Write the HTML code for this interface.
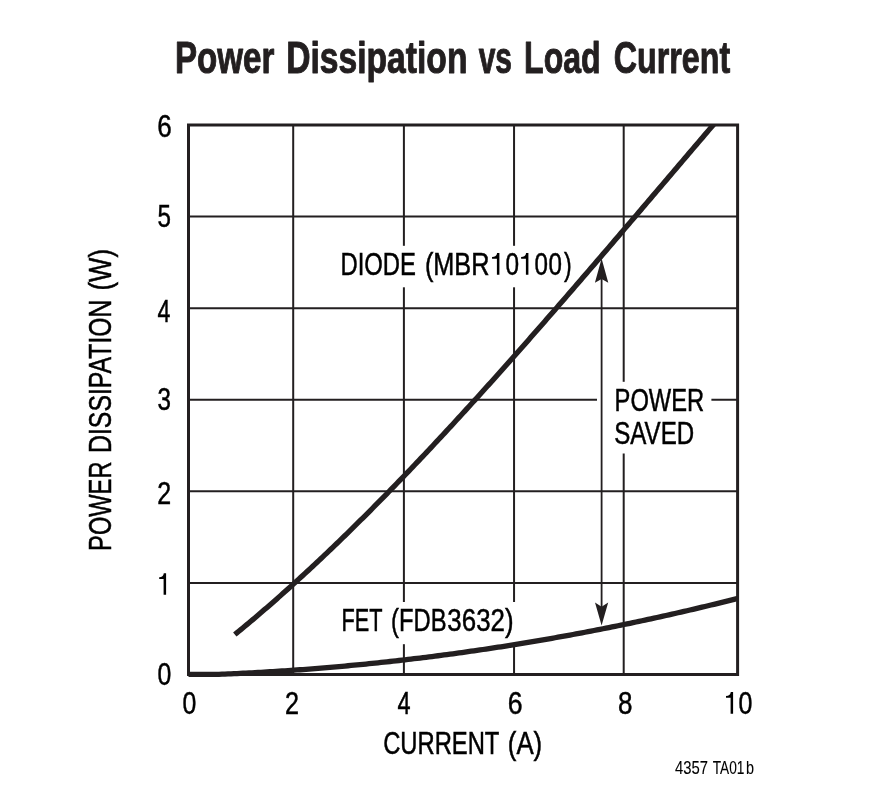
<!DOCTYPE html>
<html><head><meta charset="utf-8"><title>Power Dissipation vs Load Current</title>
<style>html,body{margin:0;padding:0;background:#fff;width:887px;height:805px;overflow:hidden}svg{display:block;will-change:transform}text{font-family:"Liberation Sans",sans-serif}</style>
</head><body>
<svg width="887" height="805" viewBox="0 0 887 805">
<defs><clipPath id="pf"><rect x="188.5" y="125.0" width="549.1" height="552.5"/></clipPath><clipPath id="pc"><rect x="188.5" y="125.0" width="549.1" height="549.5"/></clipPath></defs>
<rect width="887" height="805" fill="#fff"/>
<g stroke="#231f20" stroke-width="2.0" fill="none"><line x1="293.2" y1="125.0" x2="293.2" y2="674.5"/><line x1="403.9" y1="125.0" x2="403.9" y2="674.5"/><line x1="514.05" y1="125.0" x2="514.05" y2="674.5"/><line x1="623.7" y1="125.0" x2="623.7" y2="674.5"/><line x1="188.5" y1="216.6" x2="737.6" y2="216.6"/><line x1="188.5" y1="308.2" x2="737.6" y2="308.2"/><line x1="188.5" y1="399.8" x2="737.6" y2="399.8"/><line x1="188.5" y1="491.35" x2="737.6" y2="491.35"/><line x1="188.5" y1="583.1" x2="737.6" y2="583.1"/></g>
<g fill="#fff">
<rect x="335" y="245.8" width="245" height="41.5"/>
<rect x="336" y="602" width="184" height="42.2"/>
<rect x="597" y="381.8" width="114.4" height="71.7"/>
</g>
<g clip-path="url(#pc)" stroke="#231f20" stroke-width="5.3" fill="none" stroke-linejoin="round">
<path d="M234.80,634.55 L236.80,632.91 L238.80,631.27 L240.80,629.62 L242.80,627.97 L244.80,626.31 L246.80,624.65 L248.80,622.97 L250.80,621.29 L252.80,619.61 L254.80,617.92 L256.80,616.22 L258.80,614.51 L260.80,612.80 L262.80,611.09 L264.80,609.36 L266.80,607.63 L268.80,605.90 L270.80,604.16 L272.80,602.41 L274.80,600.66 L276.80,598.90 L278.80,597.13 L280.80,595.36 L282.80,593.58 L284.80,591.80 L286.80,590.01 L288.80,588.22 L290.80,586.42 L292.80,584.61 L294.80,582.80 L296.80,580.98 L298.80,579.16 L300.80,577.33 L302.80,575.49 L304.80,573.65 L306.80,571.81 L308.80,569.96 L310.80,568.10 L312.80,566.24 L314.80,564.37 L316.80,562.50 L318.80,560.62 L320.80,558.74 L322.80,556.85 L324.80,554.95 L326.80,553.05 L328.80,551.15 L330.80,549.24 L332.80,547.32 L334.80,545.40 L336.80,543.48 L338.80,541.55 L340.80,539.61 L342.80,537.67 L344.80,535.73 L346.80,533.78 L348.80,531.82 L350.80,529.87 L352.80,527.90 L354.80,525.93 L356.80,523.96 L358.80,521.98 L360.80,519.99 L362.80,518.01 L364.80,516.01 L366.80,514.02 L368.80,512.01 L370.80,510.01 L372.80,508.00 L374.80,505.98 L376.80,503.96 L378.80,501.94 L380.80,499.91 L382.80,497.87 L384.80,495.83 L386.80,493.79 L388.80,491.75 L390.80,489.70 L392.80,487.64 L394.80,485.58 L396.80,483.52 L398.80,481.45 L400.80,479.38 L402.80,477.30 L404.80,475.22 L406.80,473.14 L408.80,471.05 L410.80,468.96 L412.80,466.87 L414.80,464.77 L416.80,462.66 L418.80,460.56 L420.80,458.44 L422.80,456.33 L424.80,454.21 L426.80,452.09 L428.80,449.96 L430.80,447.83 L432.80,445.70 L434.80,443.56 L436.80,441.42 L438.80,439.28 L440.80,437.13 L442.80,434.98 L444.80,432.83 L446.80,430.67 L448.80,428.51 L450.80,426.34 L452.80,424.18 L454.80,422.01 L456.80,419.83 L458.80,417.65 L460.80,415.47 L462.80,413.29 L464.80,411.10 L466.80,408.91 L468.80,406.72 L470.80,404.52 L472.80,402.32 L474.80,400.12 L476.80,397.92 L478.80,395.71 L480.80,393.50 L482.80,391.28 L484.80,389.07 L486.80,386.85 L488.80,384.62 L490.80,382.40 L492.80,380.17 L494.80,377.94 L496.80,375.71 L498.80,373.47 L500.80,371.23 L502.80,368.99 L504.80,366.75 L506.80,364.50 L508.80,362.25 L510.80,360.00 L512.80,357.75 L514.80,355.49 L516.80,353.24 L518.80,350.98 L520.80,348.71 L522.80,346.45 L524.80,344.18 L526.80,341.91 L528.80,339.64 L530.80,337.37 L532.80,335.09 L534.80,332.81 L536.80,330.53 L538.80,328.25 L540.80,325.97 L542.80,323.68 L544.80,321.39 L546.80,319.11 L548.80,316.81 L550.80,314.52 L552.80,312.23 L554.80,309.93 L556.80,307.63 L558.80,305.33 L560.80,303.03 L562.80,300.72 L564.80,298.42 L566.80,296.11 L568.80,293.80 L570.80,291.49 L572.80,289.18 L574.80,286.87 L576.80,284.55 L578.80,282.24 L580.80,279.92 L582.80,277.60 L584.80,275.28 L586.80,272.96 L588.80,270.64 L590.80,268.32 L592.80,265.99 L594.80,263.66 L596.80,261.34 L598.80,259.01 L600.80,256.68 L602.80,254.35 L604.80,252.02 L606.80,249.69 L608.80,247.35 L610.80,245.02 L612.80,242.68 L614.80,240.35 L616.80,238.01 L618.80,235.67 L620.80,233.33 L622.80,230.99 L624.80,228.65 L626.80,226.31 L628.80,223.97 L630.80,221.63 L632.80,219.29 L634.80,216.95 L636.80,214.60 L638.80,212.26 L640.80,209.91 L642.80,207.57 L644.80,205.22 L646.80,202.88 L648.80,200.53 L650.80,198.18 L652.80,195.84 L654.80,193.49 L656.80,191.14 L658.80,188.80 L660.80,186.45 L662.80,184.10 L664.80,181.75 L666.80,179.41 L668.80,177.06 L670.80,174.71 L672.80,172.36 L674.80,170.01 L676.80,167.67 L678.80,165.32 L680.80,162.97 L682.80,160.62 L684.80,158.28 L686.80,155.93 L688.80,153.58 L690.80,151.24 L692.80,148.89 L694.80,146.54 L696.80,144.20 L698.80,141.85 L700.80,139.51 L702.80,137.17 L704.80,134.82 L706.80,132.48 L708.80,130.14 L710.80,127.79 L712.80,125.45 L714.80,123.11 L716.80,120.77 L718.80,118.43 L720.80,116.09 L722.80,113.76 L724.80,111.42 L725.00,111.19"/>
</g>
<g clip-path="url(#pf)" stroke="#231f20" stroke-width="5.3" fill="none" stroke-linejoin="round"><path d="M186.00,674.40 L189.00,674.40 L192.00,674.40 L195.00,674.40 L198.00,674.40 L201.00,674.40 L204.00,674.40 L207.00,674.40 L210.00,674.40 L213.00,674.40 L216.00,674.40 L219.00,674.32 L222.00,674.20 L225.00,674.07 L228.00,673.94 L231.00,673.81 L234.00,673.67 L237.00,673.53 L240.00,673.39 L243.00,673.24 L246.00,673.09 L249.00,672.94 L252.00,672.78 L255.00,672.62 L258.00,672.45 L261.00,672.28 L264.00,672.11 L267.00,671.93 L270.00,671.75 L273.00,671.57 L276.00,671.38 L279.00,671.19 L282.00,670.99 L285.00,670.79 L288.00,670.59 L291.00,670.38 L294.00,670.17 L297.00,669.96 L300.00,669.74 L303.00,669.52 L306.00,669.30 L309.00,669.07 L312.00,668.84 L315.00,668.60 L318.00,668.36 L321.00,668.12 L324.00,667.87 L327.00,667.62 L330.00,667.37 L333.00,667.11 L336.00,666.85 L339.00,666.58 L342.00,666.31 L345.00,666.04 L348.00,665.76 L351.00,665.48 L354.00,665.20 L357.00,664.91 L360.00,664.62 L363.00,664.32 L366.00,664.03 L369.00,663.72 L372.00,663.42 L375.00,663.11 L378.00,662.79 L381.00,662.48 L384.00,662.16 L387.00,661.83 L390.00,661.50 L393.00,661.17 L396.00,660.84 L399.00,660.50 L402.00,660.15 L405.00,659.81 L408.00,659.46 L411.00,659.10 L414.00,658.74 L417.00,658.38 L420.00,658.02 L423.00,657.65 L426.00,657.28 L429.00,656.90 L432.00,656.52 L435.00,656.14 L438.00,655.75 L441.00,655.36 L444.00,654.96 L447.00,654.56 L450.00,654.16 L453.00,653.76 L456.00,653.35 L459.00,652.93 L462.00,652.52 L465.00,652.10 L468.00,651.67 L471.00,651.24 L474.00,650.81 L477.00,650.38 L480.00,649.94 L483.00,649.50 L486.00,649.05 L489.00,648.60 L492.00,648.15 L495.00,647.69 L498.00,647.23 L501.00,646.76 L504.00,646.29 L507.00,645.82 L510.00,645.34 L513.00,644.86 L516.00,644.38 L519.00,643.89 L522.00,643.40 L525.00,642.91 L528.00,642.41 L531.00,641.91 L534.00,641.40 L537.00,640.89 L540.00,640.38 L543.00,639.86 L546.00,639.34 L549.00,638.82 L552.00,638.29 L555.00,637.76 L558.00,637.23 L561.00,636.69 L564.00,636.14 L567.00,635.60 L570.00,635.05 L573.00,634.50 L576.00,633.94 L579.00,633.38 L582.00,632.81 L585.00,632.24 L588.00,631.67 L591.00,631.10 L594.00,630.52 L597.00,629.93 L600.00,629.35 L603.00,628.76 L606.00,628.16 L609.00,627.56 L612.00,626.96 L615.00,626.36 L618.00,625.75 L621.00,625.14 L624.00,624.52 L627.00,623.90 L630.00,623.28 L633.00,622.65 L636.00,622.02 L639.00,621.38 L642.00,620.74 L645.00,620.10 L648.00,619.46 L651.00,618.81 L654.00,618.15 L657.00,617.50 L660.00,616.83 L663.00,616.17 L666.00,615.50 L669.00,614.83 L672.00,614.16 L675.00,613.48 L678.00,612.79 L681.00,612.11 L684.00,611.42 L687.00,610.72 L690.00,610.02 L693.00,609.32 L696.00,608.62 L699.00,607.91 L702.00,607.20 L705.00,606.48 L708.00,605.76 L711.00,605.04 L714.00,604.31 L717.00,603.58 L720.00,602.85 L723.00,602.11 L726.00,601.36 L729.00,600.62 L732.00,599.87 L735.00,599.12 L738.00,598.36 L741.00,597.60"/></g>
<rect x="188.5" y="125.0" width="549.10" height="549.50" stroke="#231f20" stroke-width="3.0" fill="none"/>
<line x1="601.6" y1="275" x2="601.6" y2="610" stroke="#231f20" stroke-width="1.8"/>
<path d="M601.6,258.6 L608.3,282.8 L601.6,279.0 L594.9,282.8Z M601.6,625.6 L608.2,602.6 L601.6,606.7 L595.0,602.6Z" fill="#231f20"/>
<g font-family="Liberation Sans, sans-serif">
<text transform="translate(175.00 72.90) scale(0.7559 1)" font-size="43.8" font-weight="bold" fill="#231f20" stroke="#231f20" stroke-width="1.0" stroke-linejoin="round">Power</text>
<text transform="translate(286.17 72.90) scale(0.7681 1)" font-size="43.8" font-weight="bold" fill="#231f20" stroke="#231f20" stroke-width="1.0" stroke-linejoin="round">Dissipation</text>
<text transform="translate(478.67 72.90) scale(0.6848 1)" font-size="43.8" font-weight="bold" fill="#231f20" stroke="#231f20" stroke-width="1.0" stroke-linejoin="round">vs</text>
<text transform="translate(524.05 72.90) scale(0.7320 1)" font-size="43.8" font-weight="bold" fill="#231f20" stroke="#231f20" stroke-width="1.0" stroke-linejoin="round">Load</text>
<text transform="translate(613.78 72.90) scale(0.7357 1)" font-size="43.8" font-weight="bold" fill="#231f20" stroke="#231f20" stroke-width="1.0" stroke-linejoin="round">Current</text>
<text transform="translate(340.47 274.70) scale(0.7695 1)" font-size="31" fill="#000" stroke="#000" stroke-width="0.500">DIODE</text>
<text transform="translate(424.88 274.70) scale(0.8157 1)" font-size="31" fill="#000" stroke="#000" stroke-width="0.500">(MBR</text>
<text transform="translate(505.51 274.70) scale(0.7871 1)" font-size="31" fill="#000" stroke="#000" stroke-width="0.500">0</text>
<text transform="translate(534.51 274.70) scale(0.7806 1)" font-size="31" fill="#000" stroke="#000" stroke-width="0.500">0</text>
<text transform="translate(548.61 274.70) scale(0.7806 1)" font-size="31" fill="#000" stroke="#000" stroke-width="0.500">0</text>
<text transform="translate(564.10 274.70) scale(0.7429 1)" font-size="31" fill="#000" stroke="#000" stroke-width="0.500">)</text>
<text transform="translate(341.42 630.70) scale(0.7009 1)" font-size="31" fill="#000" stroke="#000" stroke-width="0.500">FET</text>
<text transform="translate(391.05 630.70) scale(0.7669 1)" font-size="31" fill="#000" stroke="#000" stroke-width="0.500">(FDB</text>
<text transform="translate(447.36 630.70) scale(0.8352 1)" font-size="31" fill="#000" stroke="#000" stroke-width="0.500">3632)</text>
<text transform="translate(614.58 410.70) scale(0.7648 1)" font-size="31" fill="#000" stroke="#000" stroke-width="0.500">POWER</text>
<text transform="translate(614.23 443.70) scale(0.7771 1)" font-size="31" fill="#000" stroke="#000" stroke-width="0.500">SAVED</text>
<text transform="translate(383.14 753.80) scale(0.7673 1)" font-size="31" fill="#000" stroke="#000" stroke-width="0.500">CURRENT</text>
<text transform="translate(507.80 753.80) scale(0.8327 1)" font-size="31" fill="#000" stroke="#000" stroke-width="0.500">(A)</text>
<text transform="translate(674.89 773.90) scale(0.8256 1)" font-size="18" fill="#000" stroke="#000" stroke-width="0.100">4357</text>
<text transform="translate(712.71 773.90) scale(0.7607 1)" font-size="18" fill="#000" stroke="#000" stroke-width="0.100">TA01</text>
<text transform="translate(745.90 773.90) scale(0.8000 1)" font-size="18" fill="#000" stroke="#000" stroke-width="0.100">b</text>
<text transform="translate(110.90 550.90) rotate(-90) scale(0.7536 1)" font-size="31.4" fill="#000" stroke="#000" stroke-width="0.500">POWER</text>
<text transform="translate(110.90 452.98) rotate(-90) scale(0.7905 1)" font-size="31.4" fill="#000" stroke="#000" stroke-width="0.500">DISSIPATION</text>
<text transform="translate(110.90 290.53) rotate(-90) scale(0.8211 1)" font-size="31.4" fill="#000" stroke="#000" stroke-width="0.500">(W)</text>
<text transform="translate(157.15 137.00) scale(0.8400 1)" font-size="31" fill="#000" stroke="#000" stroke-width="0.500">6</text>
<text transform="translate(157.42 227.00) scale(0.7803 1)" font-size="31" fill="#000" stroke="#000" stroke-width="0.500">5</text>
<text transform="translate(157.61 321.80) scale(0.7455 1)" font-size="31" fill="#000" stroke="#000" stroke-width="0.500">4</text>
<text transform="translate(157.42 410.00) scale(0.7803 1)" font-size="31" fill="#000" stroke="#000" stroke-width="0.500">3</text>
<text transform="translate(157.19 503.80) scale(0.8068 1)" font-size="31" fill="#000" stroke="#000" stroke-width="0.500">2</text>
<text transform="translate(157.60 685.00) scale(0.8000 1)" font-size="31" fill="#000" stroke="#000" stroke-width="0.500">0</text>
<text transform="translate(182.60 713.90) scale(0.8000 1)" font-size="31" fill="#000" stroke="#000" stroke-width="0.500">0</text>
<text transform="translate(285.08 713.80) scale(0.8136 1)" font-size="31" fill="#000" stroke="#000" stroke-width="0.500">2</text>
<text transform="translate(397.41 713.80) scale(0.7576 1)" font-size="31" fill="#000" stroke="#000" stroke-width="0.500">4</text>
<text transform="translate(507.82 713.90) scale(0.8600 1)" font-size="31" fill="#000" stroke="#000" stroke-width="0.500">6</text>
<text transform="translate(618.06 713.90) scale(0.8393 1)" font-size="31" fill="#000" stroke="#000" stroke-width="0.500">8</text>
<text transform="translate(738.60 713.90) scale(0.8065 1)" font-size="31" fill="#000" stroke="#000" stroke-width="0.500">0</text>
<path d="M163.60,573.20 L166.10,573.20 L166.10,594.80 L163.60,594.80 L163.60,578.90 L159.20,578.90 L159.20,577.20 Q163.30,577.10 163.80,573.20Z M730.60,692.00 L733.10,692.00 L733.10,713.75 L730.60,713.75 L730.60,697.70 L726.00,697.70 L726.00,696.00 Q730.30,695.90 730.80,692.00Z M496.90,253.10 L499.40,253.10 L499.40,274.80 L496.90,274.80 L496.90,258.80 L492.05,258.80 L492.05,257.10 Q496.60,257.00 497.10,253.10Z M525.90,253.10 L528.40,253.10 L528.40,274.80 L525.90,274.80 L525.90,258.80 L521.10,258.80 L521.10,257.10 Q525.60,257.00 526.10,253.10Z" fill="#000"/>
</g>
</svg>
</body></html>
